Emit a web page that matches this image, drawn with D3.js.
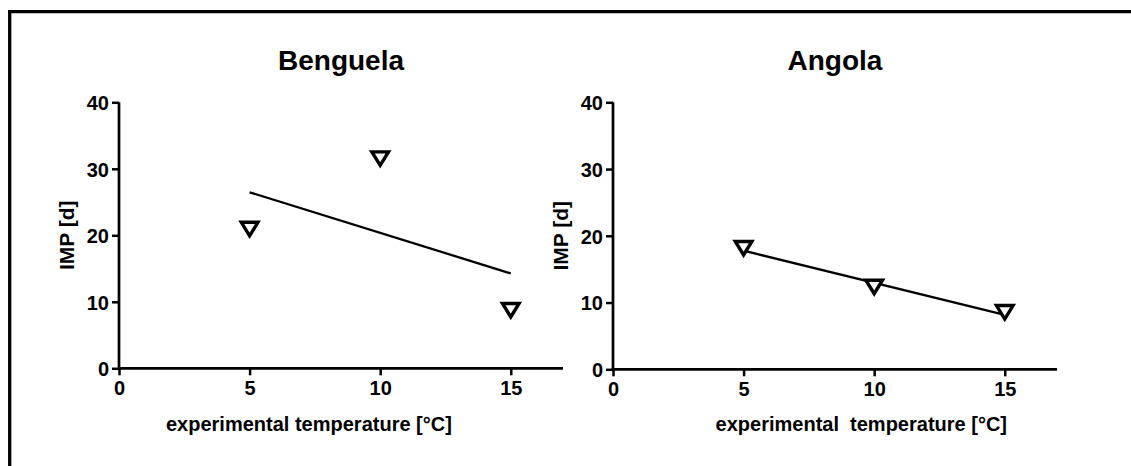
<!DOCTYPE html>
<html>
<head>
<meta charset="utf-8">
<script src="https://cdn.jsdelivr.net/npm/d3@7"></script>
<style>
  html, body { margin: 0; padding: 0; background: #fff; }
  svg { display: block; }
  text { font-family: "Liberation Sans", Arial, Helvetica, sans-serif; font-weight: bold; fill: #000; }
</style>
</head>
<body>
<svg id="chart" width="1131" height="466"></svg>
<script>
// Experimental temperatures (°C) and IMP (days) per region
const temperatures = [5, 10, 15];
const benguelaIMP = [20.9, 31.5, 8.7];
const angolaIMP = [18.1, 12.3, 8.5];

const panelTitles = ["Benguela", "Angola"];
const xAxisTitles = ["experimental temperature [°C]", "experimental  temperature [°C]"];
const yAxisTitle = "IMP [d]";
const xTicks = [0, 5, 10, 15];
const yTicks = [0, 10, 20, 30, 40];

const svg = d3.select("#chart");

// Frame: top and left rule
svg.append("line").attr("x1", 8).attr("x2", 1131).attr("y1", 11.7).attr("y2", 11.7)
  .attr("stroke", "#000").attr("stroke-width", 3.3);
svg.append("line").attr("x1", 9.7).attr("x2", 9.7).attr("y1", 10).attr("y2", 466)
  .attr("stroke", "#000").attr("stroke-width", 3.3);

// Least-squares line through the points
function linearFit(xs, ys) {
  const n = xs.length;
  const mx = d3.mean(xs), my = d3.mean(ys);
  let sxy = 0, sxx = 0;
  for (let i = 0; i < n; i++) { sxy += (xs[i] - mx) * (ys[i] - my); sxx += (xs[i] - mx) ** 2; }
  const slope = sxy / sxx;
  return x => my + slope * (x - mx);
}

const panels = [
  { title: panelTitles[0], xTitle: xAxisTitles[0], values: benguelaIMP, left: 119, top: 102.3, bottom: 368.3, xTitleX: 166, anchor: "start" },
  { title: panelTitles[1], xTitle: xAxisTitles[1], values: angolaIMP, left: 613, top: 102.3, bottom: 369.3, xTitleX: 1007, anchor: "end" }
];

const plotWidth = 444;

panels.forEach(p => {
  const x = d3.scaleLinear().domain([0, 17]).range([p.left, p.left + plotWidth]);
  const y = d3.scaleLinear().domain([0, 40]).range([p.bottom, p.top]);
  const g = svg.append("g");

  // Axes
  const xAxis = d3.axisBottom(x).tickValues(xTicks).tickSize(7).tickPadding(4).tickSizeOuter(0);
  const yAxis = d3.axisLeft(y).tickValues(yTicks).tickSize(7).tickPadding(3).tickSizeOuter(0);

  const gx = g.append("g").attr("transform", `translate(0,${p.bottom})`).call(xAxis);
  const gy = g.append("g").attr("transform", `translate(${p.left},0)`).call(yAxis);
  [gx, gy].forEach(a => {
    a.select(".domain").attr("stroke", "#000").attr("stroke-width", 2.7);
    a.selectAll(".tick line").attr("stroke", "#000").attr("stroke-width", 2.5);
    a.selectAll(".tick text").style("font-size", "20px").style("font-weight", "bold")
      .style("font-family", '"Liberation Sans", Arial, sans-serif').attr("fill", "#000");
  });
  gx.select(".domain").attr("d", `M${x(0) - 1.3},0H${x(17)}`);
  gy.select(".domain").attr("d", `M0,${y(0) + 1.3}V${y(40)}`);
  gx.selectAll(".tick text").attr("dy", "0.8em");
  gy.selectAll(".tick text").attr("dy", "0.36em");

  // Titles
  g.append("text").attr("x", (x(0) + x(17)) / 2).attr("y", 70)
    .attr("text-anchor", "middle").style("font-size", "28px").text(p.title);
  g.append("text").attr("x", p.xTitleX).attr("y", 431)
    .attr("text-anchor", p.anchor).style("font-size", "20px")
    .style("white-space", "pre").attr("xml:space", "preserve").text(p.xTitle);
  g.append("text")
    .attr("transform", `translate(${p.left - 45},${(y(0) + y(40)) / 2}) rotate(-90)`)
    .attr("text-anchor", "middle").style("font-size", "21px").text(yAxisTitle);

  // Fitted line
  const fit = linearFit(temperatures, p.values);
  const xs = d3.extent(temperatures);
  g.append("line")
    .attr("x1", x(xs[0])).attr("y1", y(fit(xs[0])))
    .attr("x2", x(xs[1])).attr("y2", y(fit(xs[1])))
    .attr("stroke", "#000").attr("stroke-width", 2.3);

  // Open down-pointing triangles
  g.selectAll("path.pt").data(temperatures.map((t, i) => [t, p.values[i]]))
    .join("path").attr("class", "pt")
    .attr("d", d => {
      const cx = x(d[0]), cy = y(d[1]);
      return `M${cx - 8.3},${cy - 7}L${cx + 8.3},${cy - 7}L${cx},${cy + 6.5}Z`;
    })
    .attr("fill", "#fff").attr("stroke", "#000").attr("stroke-width", 3.4)
    .attr("stroke-linejoin", "miter");
});
</script>
</body>
</html>
